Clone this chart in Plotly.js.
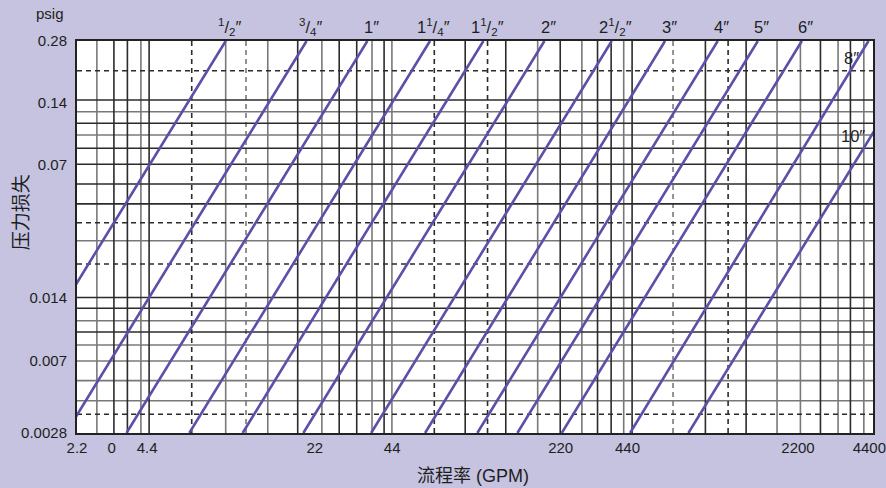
<!DOCTYPE html>
<html>
<head>
<meta charset="utf-8">
<script src="https://cdn.plot.ly/plotly-3.0.1.min.js"></script>
<style>
  html, body { margin: 0; padding: 0; background: #c5c3e0; }
  #chart { width: 886px; height: 488px; }
</style>
</head>
<body>
<div id="chart"></div>
<script>
const pipeSizes = [
  '<sup>1</sup>/<sub>2</sub>″', '<sup>3</sup>/<sub>4</sub>″', '1″',
  '1<sup>1</sup>/<sub>4</sub>″', '1<sup>1</sup>/<sub>2</sub>″', '2″',
  '2<sup>1</sup>/<sub>2</sub>″', '3″', '4″', '5″', '6″', '8″', '10″'
];
// flow (GPM) where each pipe line meets 0.28 psig and 0.0028 psig
const flowAtTopPressure    = [9.1, 19.7, 35.2, 64.0, 106.6, 190.9, 363, 604, 999, 1465, 2230, 4213, 7555];
const flowAtBottomPressure = [0.91, 1.98, 3.53, 6.43, 10.7, 19.1, 36.5, 61.1, 100.6, 147.5, 225.3, 432.7, 755];
const pressureEnds = [0.28, 0.0028];

// axis ticks
const xTickVals = [2.2, 3.06, 4.3, 21.3, 44.6, 223, 422, 2150, 4250];
const xTickText = ['2.2', '0', '4.4', '22', '44', '220', '440', '2200', '4400'];
const yTickVals = [0.0028, 0.00652, 0.01376, 0.0658, 0.135, 0.28];
const yTickText = ['0.0028', '0.007', '0.014', '0.07', '0.14', '0.28'];

// grid lines of the nomograph
const gridFlowDark   = [3.13, 3.56, 4.38, 18.1, 26.9, 31.8, 41.3, 89.6, 132, 222, 317, 361, 441, 888, 1310, 2664, 3547];
const gridFlowGray   = [2.66, 4.05, 9.1, 13.6, 22.8, 36.8, 44.5, 179, 273, 407, 1760, 2200, 3152, 4031];
const gridFlowDashDark = [6.58, 66.7, 110.9, 1103];
const gridFlowDashGray = [11.05, 652];
const gridPressDark  = [0.14, 0.1065, 0.0794, 0.0658, 0.0522, 0.0413, 0.01376, 0.01212, 0.00917];
const gridPressGray  = [0.1220, 0.0928, 0.0268, 0.01047, 0.00787, 0.00652, 0.00518, 0.00409];
const gridPressDash  = [0.1975, 0.0331, 0.0204, 0.00349];

// ---- Build ----
const X_MIN = 2.2, X_MAX = 4400, Y_MIN = 0.0028, Y_MAX = 0.28;
function gridTrace(flows, presses, color, dash) {
  const x = [], y = [];
  flows.forEach(v => { x.push(v, v, null); y.push(Y_MIN, Y_MAX, null); });
  presses.forEach(v => { x.push(X_MIN, X_MAX, null); y.push(v, v, null); });
  return { type: 'scatter', mode: 'lines', x, y, hoverinfo: 'skip', showlegend: false,
           line: { color, width: 1.6, dash: dash || 'solid' } };
}
const DARK = '#2b2b2b', GRAY = '#787878', PURPLE = '#5b4fa9';
const traces = [
  gridTrace(gridFlowGray, gridPressGray, GRAY),
  gridTrace(gridFlowDashGray, [], GRAY, '5px,4px'),
  gridTrace(gridFlowDark, gridPressDark, DARK),
  gridTrace(gridFlowDashDark, gridPressDash, DARK, '5px,4px'),
];
pipeSizes.forEach((name, i) => {
  traces.push({
    type: 'scatter', mode: 'lines', name,
    x: [flowAtTopPressure[i], flowAtBottomPressure[i]], y: pressureEnds,
    line: { color: PURPLE, width: 2.6 }, showlegend: false, hoverinfo: 'skip'
  });
});

const FONT = '"Liberation Sans", Arial, "Noto Sans CJK SC", sans-serif';
const CJK = '"Noto Sans CJK SC", "Liberation Sans", sans-serif';
const annotations = [];
pipeSizes.forEach((name, i) => {
  if (i < 11) {
    annotations.push({ xref: 'x', yref: 'paper', x: Math.log10(flowAtTopPressure[i]), y: 1,
      xanchor: 'center', yanchor: 'middle', yshift: 14, xshift: 4, showarrow: false,
      text: name, font: { family: FONT, size: 16.5, color: '#1e1e1e' } });
  }
});
annotations.push({ xref: 'paper', yref: 'paper', x: 0.9724, y: 0.9566, xanchor: 'center', yanchor: 'middle',
  showarrow: false, text: pipeSizes[11], font: { family: FONT, size: 16.5, color: '#1e1e1e' } });
annotations.push({ xref: 'paper', yref: 'paper', x: 0.9749, y: 0.7577, xanchor: 'center', yanchor: 'middle',
  showarrow: false, text: pipeSizes[12], font: { family: FONT, size: 16.5, color: '#1e1e1e' } });
annotations.push({ xref: 'paper', yref: 'paper', x: -0.014, y: 1, xanchor: 'right', yanchor: 'middle', yshift: 28,
  showarrow: false, text: 'psig', font: { family: FONT, size: 15, color: '#1e1e1e' } });
annotations.push({ xref: 'paper', yref: 'paper', x: -0.073, y: 0.563, xanchor: 'center', yanchor: 'middle',
  textangle: -90, showarrow: false, text: '压力损失', font: { family: CJK, size: 19, color: '#1e1e1e' } });
annotations.push({ xref: 'paper', yref: 'paper', x: 0.497, y: 0, xanchor: 'center', yanchor: 'middle', yshift: -43,
  showarrow: false, text: '流程率 (GPM)', font: { family: FONT, size: 18, color: '#1e1e1e' } });

const layout = {
  width: 886, height: 488,
  margin: { l: 77, r: 13, t: 41, b: 55 },
  paper_bgcolor: '#c5c3e0', plot_bgcolor: '#ffffff',
  showlegend: false,
  xaxis: {
    type: 'log', range: [Math.log10(X_MIN), Math.log10(X_MAX)],
    tickmode: 'array', tickvals: xTickVals, ticktext: xTickText,
    showgrid: false, zeroline: false, ticks: '',
    showline: true, mirror: true, linecolor: '#222', linewidth: 2,
    tickfont: { family: FONT, size: 15, color: '#1e1e1e' }, ticklabelstandoff: 0,
    ticklabeloverflow: 'allow'
  },
  yaxis: {
    type: 'log', range: [Math.log10(Y_MIN), Math.log10(Y_MAX)],
    tickmode: 'array', tickvals: yTickVals, ticktext: yTickText,
    showgrid: false, zeroline: false, ticks: '',
    showline: true, mirror: true, linecolor: '#222', linewidth: 2,
    tickfont: { family: FONT, size: 15, color: '#1e1e1e' }, ticklabelstandoff: 5,
    ticklabeloverflow: 'allow'
  },
  annotations
};
Plotly.newPlot('chart', traces, layout, { displayModeBar: false, staticPlot: true });
</script>
</body>
</html>
